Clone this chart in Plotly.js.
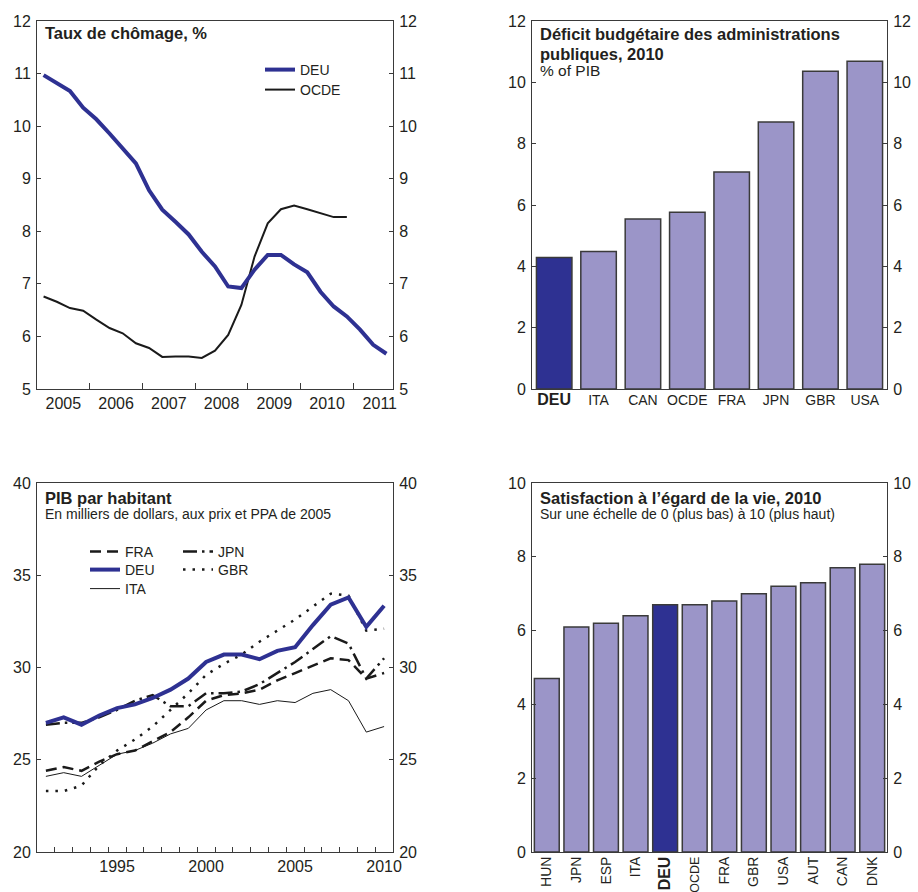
<!DOCTYPE html>
<html><head><meta charset="utf-8">
<script src="https://cdn.plot.ly/plotly-3.0.1.min.js"></script>
<style>html,body{margin:0;padding:0;background:#fff}#chart{width:918px;height:892px}</style>
</head><body><div id="chart"></div>
<script>
// ---------- Panel 1 : Taux de chômage (quarterly, 2005Q1 onwards) ----------
const unempStartYear = 2005;
const unempDEU = [10.97,10.81,10.67,10.35,10.13,9.86,9.58,9.29,8.78,8.41,8.18,7.94,7.61,7.33,6.95,6.92,7.27,7.55,7.55,7.37,7.22,6.85,6.57,6.38,6.13,5.84,5.67];
const unempOCDE = [6.76,6.66,6.54,6.49,6.32,6.16,6.06,5.87,5.78,5.61,5.62,5.62,5.59,5.73,6.03,6.60,7.52,8.15,8.42,8.49,8.42,8.34,8.27,8.27];
const unempYearLabels = ['2005','2006','2007','2008','2009','2010','2011'];

// ---------- Panel 2 : Déficit budgétaire 2010 ----------
const deficitCountries = ['DEU','ITA','CAN','OCDE','FRA','JPN','GBR','USA'];
const deficitValues = [4.29,4.48,5.54,5.76,7.08,8.71,10.36,10.69];

// ---------- Panel 3 : PIB par habitant ----------
const gdpYears = [1991,1992,1993,1994,1995,1996,1997,1998,1999,2000,2001,2002,2003,2004,2005,2006,2007,2008,2009,2010];
const gdpFRA = [24.4,24.6,24.4,24.9,25.3,25.5,26.0,26.5,27.3,28.2,28.5,28.6,28.8,29.3,29.7,30.1,30.5,30.4,29.4,29.7];
const gdpJPN = [26.9,27.0,27.0,27.3,27.7,28.2,28.5,27.9,27.9,28.6,28.6,28.7,29.1,29.7,30.3,31.0,31.7,31.3,29.4,30.5];
const gdpDEU = [27.0,27.3,26.9,27.4,27.8,28.0,28.35,28.8,29.4,30.3,30.7,30.7,30.45,30.9,31.1,32.3,33.4,33.8,32.2,33.35];
const gdpGBR = [23.3,23.3,23.6,24.7,25.5,26.1,26.8,27.7,28.6,29.6,30.2,30.7,31.4,32.0,32.6,33.3,34.0,33.9,32.0,32.1];
const gdpITA = [24.1,24.3,24.1,24.7,25.3,25.5,25.9,26.4,26.7,27.7,28.2,28.2,28.0,28.2,28.1,28.6,28.8,28.2,26.5,26.8];
const gdpTickLabels = ['1995','2000','2005','2010'];

// ---------- Panel 4 : Satisfaction à l'égard de la vie 2010 ----------
const lifeCountries = ['HUN','JPN','ESP','ITA','DEU','OCDE','FRA','GBR','USA','AUT','CAN','DNK'];
const lifeValues = [4.7,6.1,6.2,6.4,6.7,6.7,6.8,7.0,7.2,7.3,7.7,7.8];

// ---------- styling ----------
const W = 918, H = 892;
const px = v => v / W, py = v => 1 - v / H;
const FONT = 'Liberation Sans, Arial, Helvetica, sans-serif';
const TXT = '#231f20';
const AX = '#3a3a3a';
const DARK = '#2e3192';
const LIGHT = '#9b95c8';
const tickFont = {family: FONT, size: 16, color: TXT};

const P1 = {x0: 37, x1: 393, y0: 21, y1: 389};
const P2 = {x0: 532, x1: 887, y0: 21, y1: 389};
const P3 = {x0: 37, x1: 393, y0: 483, y1: 852};
const P4 = {x0: 532, x1: 887, y0: 483, y1: 852};
const xdom = p => [px(p.x0), px(p.x1)];
const ydom = p => [py(p.y1), py(p.y0)];

function yPair(p, range, dtick, xName, yMain) {
  const base = {
    range: range, dtick: dtick, tick0: 0, tickmode: 'linear',
    ticks: 'inside', ticklen: 4, tickcolor: AX, tickwidth: 1,
    showline: true, linecolor: AX, linewidth: 1,
    showgrid: false, zeroline: false, tickfont: tickFont,
    ticklabelstandoff: 2, fixedrange: true
  };
  const left = Object.assign({}, base, {domain: ydom(p), anchor: xName, side: 'left'});
  const right = Object.assign({}, base, {overlaying: yMain, anchor: xName, side: 'right'});
  return [left, right];
}

function midYearTicks(labels) { return labels.map(l => +l + 0.5); }
// invisible copy so that the right-hand mirror axis is drawn
function ghost(x, y, xa, ya) {
  return {x: x, y: y, type: 'scatter', mode: 'markers', marker: {opacity: 0, size: 1},
    xaxis: xa, yaxis: ya, showlegend: false, hoverinfo: 'skip'};
}

const traces = [];
// Panel 1
const unempX1 = unempDEU.map((_, i) => unempStartYear + (i + 0.5) / 4);
const unempX2 = unempOCDE.map((_, i) => unempStartYear + (i + 0.5) / 4);
traces.push(ghost(unempX1, unempDEU, 'x', 'y2'));
traces.push({x: unempX2, y: unempOCDE, type: 'scatter', mode: 'lines', name: 'OCDE',
  line: {color: '#1a1a1a', width: 2}, xaxis: 'x', yaxis: 'y', legend: 'legend2'});
traces.push({x: unempX1, y: unempDEU, type: 'scatter', mode: 'lines', name: 'DEU',
  line: {color: DARK, width: 4}, xaxis: 'x', yaxis: 'y', legend: 'legend'});

// Panel 2
traces.push(ghost(deficitCountries, deficitValues, 'x2', 'y4'));
traces.push({x: deficitCountries, y: deficitValues, type: 'bar', width: 0.8,
  marker: {color: deficitCountries.map(c => c === 'DEU' ? DARK : LIGHT), line: {color: AX, width: 1.5}},
  xaxis: 'x2', yaxis: 'y3', showlegend: false});

// Panel 3
const gx = gdpYears.map(y => y + 0.5);
traces.push(ghost(gx, gdpDEU, 'x3', 'y6'));
traces.push({x: gx, y: gdpITA, type: 'scatter', mode: 'lines', name: 'ITA',
  line: {color: '#1a1a1a', width: 1}, xaxis: 'x3', yaxis: 'y5', legend: 'legend5'});
traces.push({x: gx, y: gdpGBR, type: 'scatter', mode: 'lines', name: 'GBR',
  line: {color: '#1a1a1a', width: 2.5, dash: '2.5px,7px'}, xaxis: 'x3', yaxis: 'y5', legend: 'legend7'});
traces.push({x: gx, y: gdpFRA, type: 'scatter', mode: 'lines', name: 'FRA',
  line: {color: '#1a1a1a', width: 2.5, dash: '11px,6px'}, xaxis: 'x3', yaxis: 'y5', legend: 'legend3'});
traces.push({x: gx, y: gdpJPN, type: 'scatter', mode: 'lines', name: 'JPN',
  line: {color: '#1a1a1a', width: 2.5, dash: '14px,5px,2.5px,5px'}, xaxis: 'x3', yaxis: 'y5', legend: 'legend6'});
traces.push({x: gx, y: gdpDEU, type: 'scatter', mode: 'lines', name: 'DEU',
  line: {color: DARK, width: 4}, xaxis: 'x3', yaxis: 'y5', legend: 'legend4'});

// Panel 4
traces.push(ghost(lifeCountries, lifeValues, 'x4', 'y8'));
traces.push({x: lifeCountries, y: lifeValues, type: 'bar', width: 0.84,
  marker: {color: lifeCountries.map(c => c === 'DEU' ? DARK : LIGHT), line: {color: AX, width: 1.5}},
  xaxis: 'x4', yaxis: 'y7', showlegend: false});

const catText = arr => arr.map(c => c === 'DEU' ? '<span style="font-size:16px"><b>DEU</b></span>' : c);
const catTextRot = arr => arr.map(c => c === 'DEU' ? '<span style="font-size:16px"><b>DEU</b></span>' :
  (c === 'OCDE' ? '<span style="font-size:12.5px">OCDE</span>' : c));

const [y1, y2] = yPair(P1, [5, 12], 1, 'x', 'y');
const [y3, y4] = yPair(P2, [0, 12], 2, 'x2', 'y3');
const [y5, y6] = yPair(P3, [20, 40], 5, 'x3', 'y5');
const [y7, y8] = yPair(P4, [0, 10], 2, 'x4', 'y7');

const frameX = {showline: true, mirror: true, linecolor: AX, linewidth: 1, showgrid: false, zeroline: false, fixedrange: true};

const legendFont = {family: FONT, size: 14, color: TXT};
function leg(xPx, topPx) {
  return {bgcolor: 'rgba(0,0,0,0)', borderwidth: 0, font: legendFont, orientation: 'v',
    xanchor: 'left', yanchor: 'top', x: px(xPx), y: py(topPx), itemclick: false, itemdoubleclick: false};
}

function note(text, x, yTop, size, bold) {
  return {text: bold ? '<b>' + text + '</b>' : text, xref: 'paper', yref: 'paper', x: px(x), y: py(yTop),
    xanchor: 'left', yanchor: 'top', showarrow: false, align: 'left',
    font: {family: FONT, size: size, color: TXT}, borderpad: 0};
}

const layout = {
  width: W, height: H,
  margin: {l: 0, r: 0, t: 0, b: 0},
  paper_bgcolor: '#fff', plot_bgcolor: 'rgba(0,0,0,0)',
  font: {family: FONT, color: TXT},
  showlegend: true, hovermode: false,
  xaxis: Object.assign({}, frameX, {domain: xdom(P1), anchor: 'y', range: [2005, 2011.75],
    tickmode: 'array', tickvals: midYearTicks(unempYearLabels), ticktext: unempYearLabels, ticks: '',
    tickfont: tickFont,
    minor: {tickmode: 'array', tickvals: [2006, 2007, 2008, 2009, 2010, 2011], ticks: 'inside', ticklen: 6, tickcolor: AX, tickwidth: 1}}),
  yaxis: y1, yaxis2: y2,
  xaxis2: Object.assign({}, frameX, {domain: xdom(P2), anchor: 'y3', type: 'category', range: [-0.5, 7.5],
    tickmode: 'array', tickvals: deficitCountries, ticktext: catText(deficitCountries), ticks: '',
    tickfont: {family: FONT, size: 14, color: TXT}, ticklabelstandoff: -2}),
  yaxis3: y3, yaxis4: y4,
  xaxis3: Object.assign({}, frameX, {domain: xdom(P3), anchor: 'y5', range: [1991, 2011],
    tickmode: 'array', tickvals: midYearTicks(gdpTickLabels), ticktext: gdpTickLabels, ticks: '',
    tickfont: tickFont,
    minor: {tickmode: 'array', tickvals: gdpYears.slice(1), ticks: 'inside', ticklen: 5, tickcolor: AX, tickwidth: 1}}),
  yaxis5: y5, yaxis6: y6,
  xaxis4: Object.assign({}, frameX, {domain: xdom(P4), anchor: 'y7', type: 'category', range: [-0.5, 11.5],
    tickmode: 'array', tickvals: lifeCountries, ticktext: catTextRot(lifeCountries), ticks: '', tickangle: -90,
    tickfont: {family: FONT, size: 14, color: TXT}, ticklabelstandoff: -2}),
  yaxis7: y7, yaxis8: y8,
  legend: leg(260, 54),
  legend2: leg(260, 74),
  legend3: leg(85, 536),
  legend4: leg(85, 554),
  legend5: leg(85, 573),
  legend6: leg(178, 536),
  legend7: leg(178, 554),
  annotations: [
    note('Taux de chômage, %', 44, 23, 16.5, true),
    note('Déficit budgétaire des administrations', 539, 24, 16.5, true),
    note('publiques, 2010', 539, 43.5, 16.5, true),
    note('% of PIB', 539, 61, 15.5, false),
    note('PIB par habitant', 44, 488, 16.5, true),
    note('En milliers de dollars, aux prix et PPA de 2005', 44, 505, 14, false),
    note('Satisfaction à l’égard de la vie, 2010', 539, 488, 16.5, true),
    note('Sur une échelle de 0 (plus bas) à 10 (plus haut)', 539, 505, 14, false)
  ]
};

Plotly.newPlot('chart', traces, layout, {staticPlot: true, displayModeBar: false});
</script>
</body></html>
